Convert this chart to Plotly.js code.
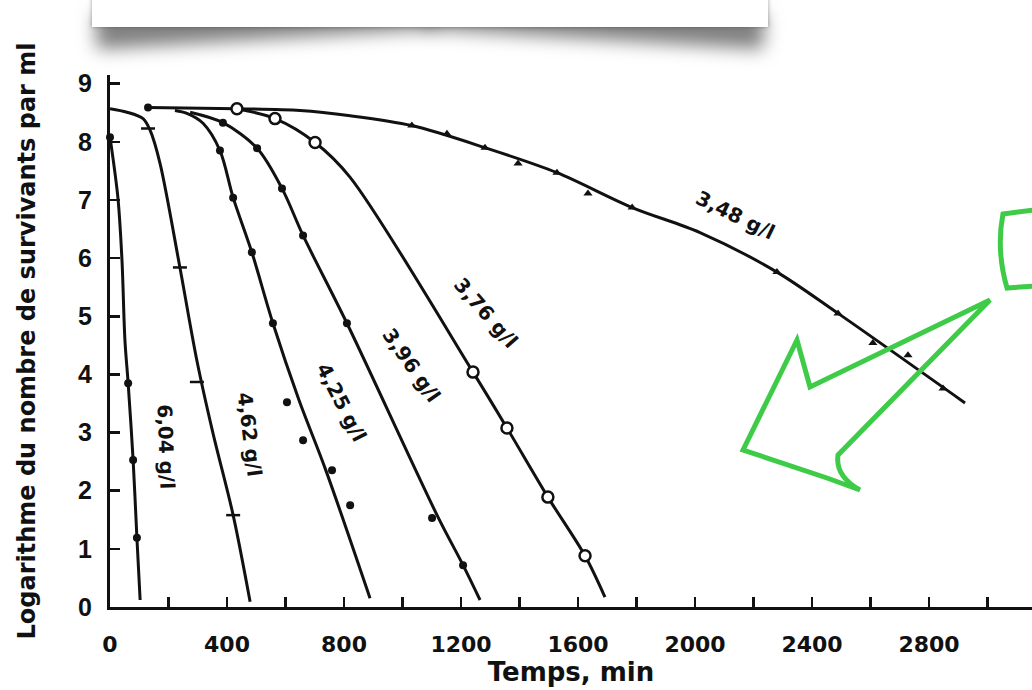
<!DOCTYPE html>
<html>
<head>
<meta charset="utf-8">
<script src="https://cdn.plot.ly/plotly-3.0.1.min.js"></script>
<style>
  html, body { margin: 0; padding: 0; background: #fff; overflow: hidden; }
  #chart { position: absolute; left: 0; top: 0; width: 1032px; height: 690px; }
  #wrap { position: absolute; left: 0; top: 0; z-index: 10; }
  #card { position: absolute; left: 92px; top: -20px; width: 676px; height: 47px; background: #fff;
          box-shadow: 0 0 4px rgba(0,0,0,0.35); }
  #card:before, #card:after { content: ""; position: absolute; z-index: -1; bottom: 18px; width: 50%; height: 34px;
          box-shadow: 0 30px 18px rgba(0,0,0,0.5); }
  #card:before { left: 2px; transform: rotate(-3.5deg); }
  #card:after { right: 2px; transform: rotate(3.5deg); }
</style>
</head>
<body>
<div id="chart"></div>
<div id="wrap"><div id="card"></div></div>
<script>
// ---- Data (time in min, log10 survivors per ml) ----
const curveLabels = ['6,04 g/l', '4,62 g/l', '4,25 g/l', '3,96 g/l', '3,76 g/l', '3,48 g/l'];

// 6,04 g/l
const lineT_604 = [0, 27, 41, 51, 62, 79, 92, 103];
const lineY_604 = [8.08, 7.04, 5.96, 4.59, 3.85, 2.53, 1.19, 0.12];
const ptT_604 = [0, 62, 79, 92];
const ptY_604 = [8.08, 3.85, 2.53, 1.19];

// 4,62 g/l
const lineT_462 = [0, 58, 113, 137, 171, 239, 297, 352, 421, 479];
const lineY_462 = [8.57, 8.51, 8.40, 8.20, 7.63, 5.84, 4.24, 2.99, 1.58, 0.09];
const ptT_462 = [130, 239, 297, 421];
const ptY_462 = [8.23, 5.84, 3.87, 1.58];

// 4,25 g/l
const lineT_425 = [222, 263, 318, 376, 421, 485, 557, 646, 738, 889];
const lineY_425 = [8.54, 8.49, 8.32, 7.85, 7.04, 6.10, 4.88, 3.56, 2.35, 0.15];
const ptT_425 = [376, 421, 485, 557, 605, 660, 759, 821];
const ptY_425 = [7.85, 7.04, 6.10, 4.88, 3.52, 2.87, 2.35, 1.75];

// 3,96 g/l
const lineT_396 = [274, 386, 503, 588, 660, 810, 1121, 1207, 1265];
const lineY_396 = [8.51, 8.33, 7.89, 7.20, 6.39, 4.88, 1.55, 0.72, 0.12];
const ptT_396 = [386, 503, 588, 660, 810, 1101, 1207];
const ptY_396 = [8.33, 7.89, 7.20, 6.39, 4.88, 1.53, 0.72];

// 3,76 g/l
const lineT_376 = [434, 564, 701, 821, 1241, 1357, 1497, 1624, 1692];
const lineY_376 = [8.57, 8.40, 7.99, 7.39, 4.04, 3.08, 1.89, 0.88, 0.17];
const ptT_376 = [434, 564, 701, 1241, 1357, 1497, 1624];
const ptY_376 = [8.57, 8.40, 7.99, 4.04, 3.08, 1.89, 0.88];

// 3,48 g/l
const lineT_348 = [130, 434, 650, 821, 1032, 1282, 1528, 1785, 2017, 2280, 2489, 2923];
const lineY_348 = [8.59, 8.57, 8.54, 8.45, 8.28, 7.90, 7.47, 6.87, 6.44, 5.76, 5.05, 3.51];
const ptT_348 = [130, 1032, 1152, 1282, 1395, 1528, 1634, 1785, 2280, 2489, 2608, 2728, 2848];
const ptY_348 = [8.59, 8.28, 8.14, 7.90, 7.63, 7.47, 7.11, 6.87, 5.76, 5.05, 4.54, 4.33, 3.76];

const xTickVals = [0, 400, 800, 1200, 1600, 2000, 2400, 2800];
const yTickVals = [0, 1, 2, 3, 4, 5, 6, 7, 8, 9];

// ---- Traces ----
const BLACK = '#111';
function lineTrace(t, y, name) {
  return { x: t, y: y, mode: 'lines', name: name, hoverinfo: 'skip',
           line: { color: BLACK, width: 3, shape: 'spline', smoothing: 0.9 }, showlegend: false };
}
function ptTrace(t, y, name, marker) {
  return { x: t, y: y, mode: 'markers', name: name, marker: marker, showlegend: false, cliponaxis: false };
}
const dot = { symbol: 'circle', size: 8, color: BLACK };
const openDot = { symbol: 'circle', size: 11, color: '#fff', line: { color: BLACK, width: 2.5 } };
const dash = { symbol: 'line-ew-open', size: 10, color: BLACK, line: { color: BLACK, width: 2.5 } };
const tri = { symbol: ptT_348.map((v, i) => i === 0 ? 'circle' : 'triangle-up'), size: 8, color: BLACK };

const data = [
  lineTrace(lineT_604, lineY_604, curveLabels[0]),
  lineTrace(lineT_462, lineY_462, curveLabels[1]),
  lineTrace(lineT_425, lineY_425, curveLabels[2]),
  lineTrace(lineT_396, lineY_396, curveLabels[3]),
  lineTrace(lineT_376, lineY_376, curveLabels[4]),
  lineTrace(lineT_348, lineY_348, curveLabels[5]),
  ptTrace(ptT_604, ptY_604, curveLabels[0], dot),
  ptTrace(ptT_462, ptY_462, curveLabels[1], dash),
  ptTrace(ptT_425, ptY_425, curveLabels[2], dot),
  ptTrace(ptT_396, ptY_396, curveLabels[3], dot),
  ptTrace(ptT_376, ptY_376, curveLabels[4], openDot),
  ptTrace(ptT_348, ptY_348, curveLabels[5], tri)
];

// ---- Curve labels (placement along each curve) ----
const labelFont = { family: 'DejaVu Sans', size: 20, color: BLACK, weight: 'bold' };
const labelPlacement = [
  { x: 191, y: 2.75, a: 88 },
  { x: 478, y: 2.96, a: 83 },
  { x: 790, y: 3.52, a: 63 },
  { x: 1030, y: 4.16, a: 55 },
  { x: 1285, y: 5.05, a: 49 },
  { x: 2137, y: 6.74, a: 26 }
];
const annotations = curveLabels.map((txt, i) => ({
  x: labelPlacement[i].x, y: labelPlacement[i].y, xref: 'x', yref: 'y',
  text: txt, showarrow: false, textangle: labelPlacement[i].a, font: labelFont
}));

// ---- Green hand-drawn arrow (decoration, pixel -> paper) ----
const PL = 110, PW = 922, PB = 607, PH = 532;
function P(px, py) { return ((px - PL) / PW).toFixed(4) + ',' + ((PB - py) / PH).toFixed(4); }
const arrowPath = 'M' + P(797, 340) + ' L' + P(743, 450) + ' L' + P(827, 478) + ' L' + P(860, 490) +
  ' Q' + P(835, 476) + ' ' + P(838, 455) + ' L' + P(990, 300) + ' L' + P(810, 387) + ' Z';
const boxPath = 'M' + P(1034, 210) + ' L' + P(1003, 214) + ' Q' + P(996, 250) + ' ' + P(1007, 288) + ' L' + P(1034, 286);
const green = 'rgb(62,204,72)';
const shapes = [
  { type: 'path', xref: 'paper', yref: 'paper', path: arrowPath, line: { color: green, width: 5 }, layer: 'above' },
  { type: 'path', xref: 'paper', yref: 'paper', path: boxPath, line: { color: green, width: 5 }, layer: 'above' }
];

const layout = {
  width: 1032, height: 690,
  margin: { l: 110, r: 0, t: 75, b: 83, pad: 0 },
  paper_bgcolor: '#fff', plot_bgcolor: '#fff',
  font: { family: 'DejaVu Sans', color: BLACK },
  showlegend: false,
  xaxis: {
    range: [0, 3152], showgrid: false, zeroline: false,
    showline: true, linecolor: BLACK, linewidth: 3,
    tickmode: 'array', tickvals: xTickVals,
    ticks: 'inside', ticklen: 10, tickwidth: 2.5, tickcolor: BLACK,
    minor: { dtick: 200, tick0: 0, ticks: 'inside', ticklen: 10, tickwidth: 2.5, tickcolor: BLACK },
    tickfont: { family: 'DejaVu Sans', size: 22, color: BLACK, weight: 'bold' },
    ticklabelstandoff: 16,
    title: { text: 'Temps, min', font: { family: 'DejaVu Sans', size: 26, color: BLACK, weight: 'bold' }, standoff: 2 },
    automargin: false
  },
  yaxis: {
    range: [0, 9.15], showgrid: false, zeroline: false,
    showline: true, linecolor: BLACK, linewidth: 3,
    tickmode: 'array', tickvals: yTickVals,
    ticks: 'inside', ticklen: 10, tickwidth: 2.5, tickcolor: BLACK,
    tickfont: { family: 'Liberation Sans', size: 25, color: BLACK, weight: 'bold' },
    ticklabelstandoff: 10,
    title: { text: 'Logarithme du nombre de survivants par ml', font: { family: 'DejaVu Sans', size: 24, color: BLACK, weight: 'bold' }, standoff: 36 },
    automargin: false
  },
  annotations: annotations,
  shapes: shapes
};

Plotly.newPlot('chart', data, layout, { displayModeBar: false, staticPlot: true });
</script>
</body>
</html>
